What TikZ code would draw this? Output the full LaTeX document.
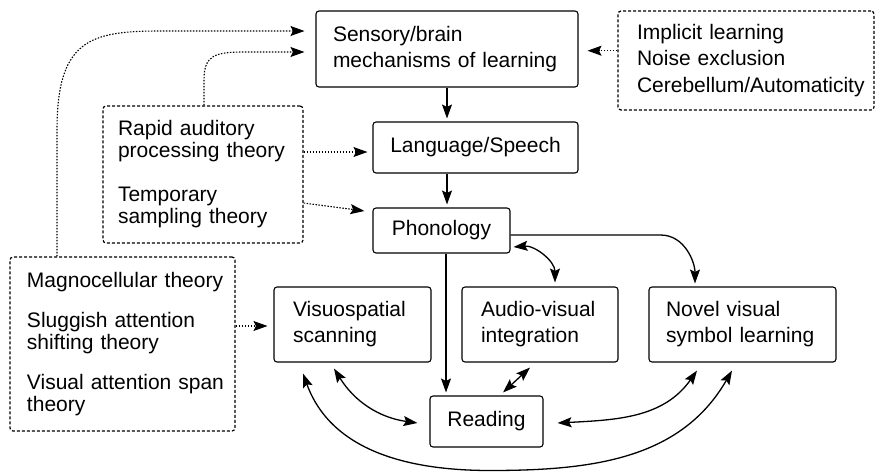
\documentclass[tikz,border=0pt]{standalone}
\usepackage{fontspec}
\setmainfont{Liberation Sans}
\usetikzlibrary{arrows.meta}
\begin{document}
\begin{tikzpicture}[x=1pt,y=1pt,
  box/.style={draw, line width=1.1pt, rounded corners=3pt, inner sep=0pt, align=left,
    font=\fontsize{21}{26}\selectfont},
  dbox/.style={draw, line width=1.2pt, dash pattern=on 3pt off 2pt, rounded corners=3pt,
    inner sep=0pt, align=left},
  tip/.tip={Stealth[length=14pt,width=10pt,inset=2.5pt]},
  arr/.style={line width=1.3pt, -tip, shorten >=3pt},
  darr/.style={line width=1.3pt, tip-tip},
  dot/.style={line width=1.1pt, dash pattern=on 1.5pt off 1.5pt, -tip}
]
\useasboundingbox (0,0) rectangle (876,-472);

% solid boxes
\node[box, minimum width=262pt, minimum height=76pt, text width=228pt] (sens) at (447,-49)
  {\mbox{Sensory/brain}\\\mbox{mechanisms of learning}};
\node[box, minimum width=205pt, minimum height=51pt, align=center] (lang) at (475.5,-147.5) {Language/Speech};
\node[box, minimum width=137pt, minimum height=45pt, align=center] (phon) at (441.5,-230.5) {Phonology};
\node[box, minimum width=157pt, minimum height=75pt, text width=119pt] (vis) at (352.5,-324.5)
  {\mbox{Visuospatial}\\\mbox{scanning}};
\node[box, minimum width=156pt, minimum height=75pt, text width=118pt] (av) at (540,-324.5)
  {\mbox{Audio-visual}\\\mbox{integration}};
\node[box, minimum width=187pt, minimum height=75pt, text width=153pt] (novel) at (742.5,-324.5)
  {\mbox{Novel visual}\\\mbox{symbol learning}};
\node[box, minimum width=113pt, minimum height=51pt, align=center] (read) at (486.5,-421.5) {Reading};

% dashed boxes
\node[dbox, minimum width=256pt, minimum height=99pt, text width=218pt,
  font=\fontsize{21}{26.5}\selectfont] (impl) at (746,-60.5)
  {\mbox{Implicit learning}\\\mbox{Noise exclusion}\\\mbox{Cerebellum/Automaticity}};
\node[dbox, minimum width=200pt, minimum height=137pt, text width=170pt,
  font=\fontsize{21}{22}\selectfont] (rapid) at (203,-174.5)
  {\mbox{Rapid auditory}\\\mbox{processing theory}\\[22pt]\mbox{Temporary}\\\mbox{sampling theory}};
\node[dbox, minimum width=225pt, minimum height=174pt, text width=191pt,
  font=\fontsize{21}{22}\selectfont] (magno) at (122.5,-344)
  {\mbox{Magnocellular theory}\\[18pt]\mbox{Sluggish attention}\\\mbox{shifting theory}\\[18pt]\mbox{Visual attention span}\\\mbox{theory}};

\coordinate (bot) at (490,-470.5);

% solid connectors
\draw[arr] (sens.south) -- (sens.south |- lang.north);
\draw[arr] (lang.south -| sens.south) -- (phon.north -| sens.south);
\draw[arr] ([xshift=4.5pt]phon.south) -- ([xshift=4.5pt]phon.south |- read.north);
\draw[arr] ([yshift=-4.5pt]phon.east) -- ++(150pt,0) to[out=0,in=90] ([xshift=-47.5pt]novel.north);
\draw[darr] ([xshift=3pt,yshift=-16.5pt]phon.east) to[out=5,in=90] ([xshift=15pt,yshift=4pt]av.north);
\draw[darr] ([xshift=-10pt,yshift=-5pt]av.south) -- ([xshift=16.5pt,yshift=3pt]read.north);
\draw[darr] ([xshift=-18.5pt,yshift=-6pt]vis.south) to[out=-58,in=172] ([xshift=-12pt,yshift=-1.5pt]read.west);
\draw[darr] ([xshift=14pt,yshift=-1.5pt]read.east) to[out=3,in=-125] ([xshift=-45.5pt,yshift=-8pt]novel.south);
\draw[darr] ([xshift=-49.5pt,yshift=-11pt]vis.south) to[out=-70,in=180] (bot)
  to[out=0,in=-120] ([xshift=-10.5pt,yshift=-8pt]novel.south);

% dotted connectors
\draw[dot] ([xshift=-65.5pt]magno.north) -- (57,-130) .. controls (57,-40) and (90,-31) .. (160,-31)
  -- ([xshift=-11pt,yshift=18pt]sens.west);
\draw[dot] ([xshift=1pt]rapid.north) -- (204,-80) .. controls (204,-55) and (215,-52) .. (245,-52)
  -- ([xshift=-11pt,yshift=-3pt]sens.west);
\draw[dot] ([yshift=22.5pt]rapid.east) -- ([xshift=-5pt,yshift=-4.5pt]lang.west);
\draw[dot] ([yshift=-28.5pt]rapid.east) -- ([xshift=-8pt,yshift=19.5pt]phon.west);
\draw[dot] ([yshift=9.8pt]impl.west) -- ([xshift=9pt,yshift=-1.7pt]sens.east);
\draw[dot] ([yshift=18pt]magno.east) -- ([xshift=-6pt,yshift=-1.5pt]vis.west);
\end{tikzpicture}
\end{document}
